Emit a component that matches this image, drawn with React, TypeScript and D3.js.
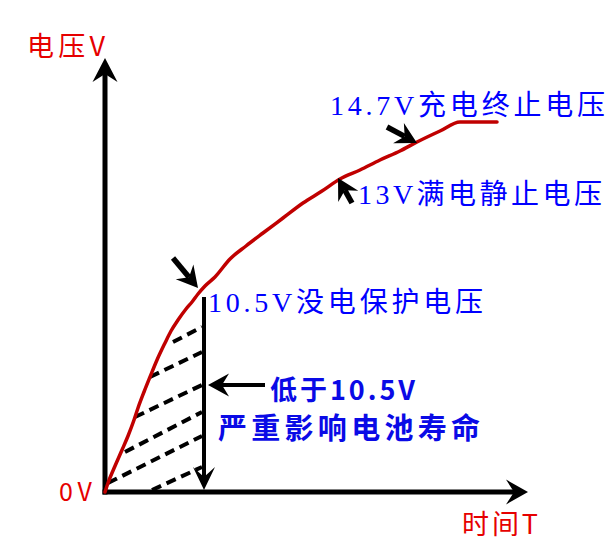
import React from "react";
import * as d3 from "d3";

// Schematic battery charge curve, values in arbitrary chart units (time T, voltage V)
const T_MAX = 423;
const V_MAX = 434;

const curveT = [0, 3, 10, 17, 23, 29, 33, 39, 45, 52, 60, 66, 73, 81, 87, 93, 100, 110, 125, 141, 158, 178, 198, 217, 235, 255, 275, 295, 312, 335, 355, 392];
const curveV = [0, 9, 26, 42, 56, 72, 84, 100, 115, 132, 149, 161, 172, 183, 190, 198, 206, 215, 233, 246, 259, 274, 289, 301, 313, 322, 332, 341, 350, 361, 370, 370];

// dashed hatch lines under the curve (below 10.5V region)
const hatchFromT = [68, 45, 30, 20, 3, 47];
const hatchFromV = [150, 115, 75, 40, 9, 2];
const hatchToT = [97, 97, 97, 97, 97, 97];
const hatchToV = [165, 140, 107, 80, 56, 25];

// vertical drop line at 10.5V point
const dropT = 99;
const dropTopV = 195;
const dropBottomV = 2;

// annotation arrows: tail -> tip
const arrowTailT = [282, 247, 68, 160];
const arrowTailV = [365, 289, 234, 107];
const arrowTipT = [312, 233, 93, 103];
const arrowTipV = [349, 314, 204, 107];

const axisYLabel = "电压V";
const axisXLabel = "时间T";
const originLabel = "0V";
const labelEnd = "14.7V充电终止电压";
const labelFull = "13V满电静止电压";
const labelProtect = "10.5V没电保护电压";
const warn1 = "低于10.5V";
const warn2 = "严重影响电池寿命";

const x = d3.scaleLinear().domain([0, T_MAX]).range([105, 528]);
const y = d3.scaleLinear().domain([0, V_MAX]).range([492, 58]);

type P = [number, number];

function stealth(tail: P, tip: P, len: number, halfW: number, notch: number) {
  const dx = tip[0] - tail[0];
  const dy = tip[1] - tail[1];
  const L = Math.hypot(dx, dy);
  const ux = dx / L, uy = dy / L;
  const nx = -uy, ny = ux;
  const bx = tip[0] - ux * len, by = tip[1] - uy * len;
  const w1: P = [bx + nx * halfW, by + ny * halfW];
  const w2: P = [bx - nx * halfW, by - ny * halfW];
  const np: P = [tip[0] - ux * (len - notch), tip[1] - uy * (len - notch)];
  const path = `M${tip[0]},${tip[1]}L${w1[0]},${w1[1]}L${np[0]},${np[1]}L${w2[0]},${w2[1]}Z`;
  return { path, notchPt: np };
}

export default function App() {
  const pts: P[] = curveT.map((t, i) => [t, curveV[i]]);
  const line = d3
    .line<P>()
    .x((d) => x(d[0]))
    .y((d) => y(d[1]))
    .curve(d3.curveMonotoneX);

  const origin: P = [x(0), y(0)];
  const yTip: P = [x(0), y(V_MAX)];
  const xTip: P = [x(T_MAX), y(0)];
  const yHead = stealth(origin, yTip, 24, 12.5, 8);
  const xHead = stealth(origin, xTip, 22, 12.5, 8);

  const dropTop: P = [x(dropT), y(dropTopV)];
  const dropBot: P = [x(dropT), y(dropBottomV)];
  const dropHead = stealth(dropTop, dropBot, 23, 11, 10);

  const blue = "#0000ff";
  const blueBold = "#0a0ae6";
  const red = "#e60000";
  const serif = "'Liberation Serif', 'Noto Sans CJK SC', serif";
  const sans = "'Noto Sans CJK SC', 'Noto Sans', sans-serif";

  return (
    <svg
      width={615}
      height={546}
      style={{ position: "fixed", left: 0, top: 0, background: "#fff" }}
    >
      <rect x={0} y={0} width={615} height={546} fill="#fff" />

      {/* hatch dashed lines */}
      {hatchFromT.map((t, i) => (
        <line
          key={"h" + i}
          x1={x(t)}
          y1={y(hatchFromV[i])}
          x2={x(hatchToT[i])}
          y2={y(hatchToV[i])}
          stroke="#000"
          strokeWidth={4}
          strokeDasharray="10 6"
        />
      ))}

      {/* drop line with arrow */}
      <line
        x1={dropTop[0]}
        y1={dropTop[1]}
        x2={dropHead.notchPt[0]}
        y2={dropHead.notchPt[1]}
        stroke="#000"
        strokeWidth={4}
      />
      <path d={dropHead.path} fill="#000" />

      {/* axes */}
      <line
        x1={origin[0]}
        y1={origin[1] + 2.5}
        x2={yHead.notchPt[0]}
        y2={yHead.notchPt[1]}
        stroke="#000"
        strokeWidth={5}
      />
      <path d={yHead.path} fill="#000" />
      <line
        x1={origin[0] - 2.5}
        y1={origin[1]}
        x2={xHead.notchPt[0]}
        y2={xHead.notchPt[1]}
        stroke="#000"
        strokeWidth={5}
      />
      <path d={xHead.path} fill="#000" />

      {/* curve */}
      <path
        d={line(pts) || ""}
        fill="none"
        stroke="#c00000"
        strokeWidth={3.5}
        strokeLinejoin="round"
        strokeLinecap="round"
      />

      {/* annotation arrows */}
      {arrowTailT.map((t, i) => {
        const tail: P = [x(t), y(arrowTailV[i])];
        const tip: P = [x(arrowTipT[i]), y(arrowTipV[i])];
        const h = stealth(tail, tip, 21, 11.5, 7);
        return (
          <g key={"a" + i}>
            <line
              x1={tail[0]}
              y1={tail[1]}
              x2={h.notchPt[0]}
              y2={h.notchPt[1]}
              stroke="#000"
              strokeWidth={i === 3 ? 4 : 5.5}
            />
            <path d={h.path} fill="#000" />
          </g>
        );
      })}

      {/* labels */}
      <text x={27} y={56} fill={red} fontFamily={sans} fontSize={27} textLength={78} lengthAdjust="spacing">
        {axisYLabel}
      </text>
      <text x={59} y={501} fill={red} fontFamily={sans} fontSize={25} textLength={33} lengthAdjust="spacing">
        {originLabel}
      </text>
      <text x={462} y={534} fill={red} fontFamily={sans} fontSize={27} textLength={76} lengthAdjust="spacing">
        {axisXLabel}
      </text>

      <text x={330} y={115} fill={blue} fontFamily={serif} fontSize={28} textLength={275} lengthAdjust="spacing">
        {labelEnd}
      </text>
      <text x={358} y={204} fill={blue} fontFamily={serif} fontSize={28} textLength={244} lengthAdjust="spacing">
        {labelFull}
      </text>
      <text x={208} y={312} fill={blue} fontFamily={serif} fontSize={28} textLength={275} lengthAdjust="spacing">
        {labelProtect}
      </text>

      <text x={270} y={400} fill={blueBold} fontFamily={sans} fontWeight={700} fontSize={27} textLength={145} lengthAdjust="spacing">
        {warn1}
      </text>
      <text x={218} y={439} fill={blueBold} fontFamily={sans} fontWeight={700} fontSize={29} textLength={262} lengthAdjust="spacing">
        {warn2}
      </text>
    </svg>
  );
}
